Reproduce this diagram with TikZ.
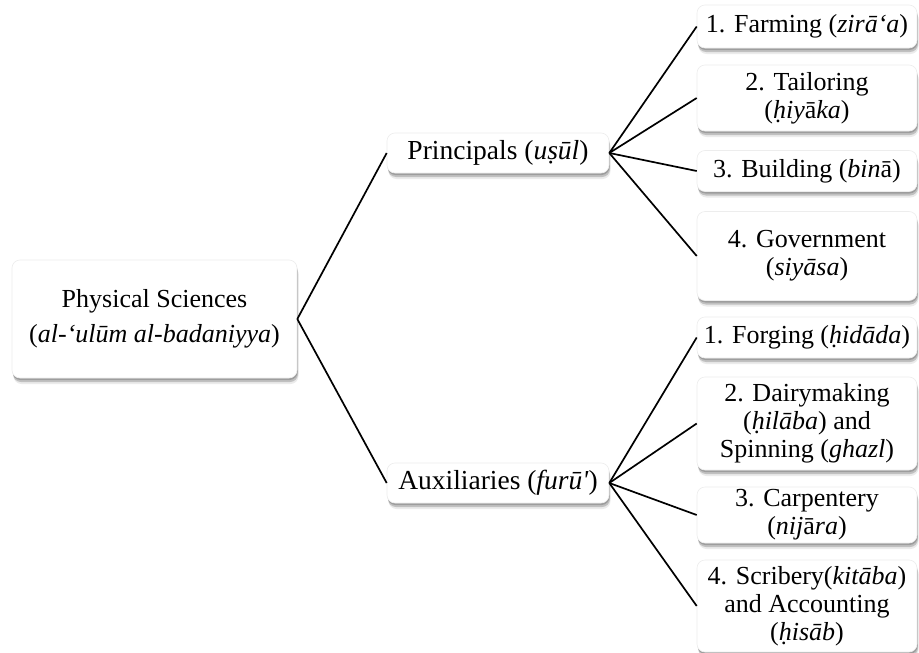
\documentclass[tikz,border=0pt]{standalone}
\usepackage{fontspec}
\setmainfont{Liberation Serif}
\usetikzlibrary{shadows}
\begin{document}
\begin{tikzpicture}[x=1pt,y=-1pt,
  box/.style={draw=black!7, line width=0.6pt, fill=white, rounded corners=8pt, align=center,
    inner sep=0pt, font=\fontsize{26}{28}\selectfont,
    drop shadow={shadow xshift=0.5pt, shadow yshift=-2pt, opacity=0.18, fill=black},
    drop shadow={shadow xshift=1pt, shadow yshift=-4pt, opacity=0.18, fill=black},
    drop shadow={shadow xshift=1.5pt, shadow yshift=-6pt, opacity=0.08, fill=black}},
  leaf/.style={box, minimum width=220pt},
  mid/.style={box, minimum width=222pt, minimum height=40pt, font=\fontsize{27.5}{30}\selectfont},
  conn/.style={line width=1.7pt, black}]
\useasboundingbox (0,0) rectangle (919,653);
\fill[white] (0,0) rectangle (919,653);

\node[box, minimum width=285pt, minimum height=118pt] (root) at (154.5,319)
  {Physical Sciences\\[7pt](\textit{al-‘ulūm al-badaniyya})};
\node[mid] (pri) at (498,153) {Principals (\textit{uṣūl})};
\node[mid] (aux) at (498,483) {Auxiliaries (\textit{furū\textquotesingle})};

\node[leaf, minimum height=43pt] (l1) at (807,26.5) {1. Farming (\textit{zirā‘a})};
\node[leaf, minimum height=66pt] (l2) at (807,98) {2. Tailoring\\(\textit{ḥiy}ā\textit{ka})};
\node[leaf, minimum height=41pt] (l3) at (807,171) {3. Building (\textit{bin}ā)};
\node[leaf, minimum height=89pt] (l4) at (807,256) {4. Government\\(\textit{siyāsa})};
\node[leaf, minimum height=41pt] (l5) at (807,337.5) {1. Forging (\textit{ḥidāda})};
\node[leaf, minimum height=93pt] (l6) at (807,423.5) {2. Dairymaking\\(\textit{ḥilāba}) and\\Spinning (\textit{ghazl})};
\node[leaf, minimum height=56pt] (l7) at (807,515) {3. Carpentery\\(\textit{nij}ā\textit{ra})};
\node[leaf, minimum height=92pt] (l8) at (807,606) {4. Scribery(\textit{kitāba})\\and Accounting\\(\textit{ḥisāb})};

\draw[conn] (root.east) -- (pri.west);
\draw[conn] (root.east) -- (aux.west);
\foreach \n in {l1,l2,l3,l4} \draw[conn] (pri.east) -- (\n.west);
\foreach \n in {l5,l6,l7,l8} \draw[conn] (aux.east) -- (\n.west);
\end{tikzpicture}
\end{document}
